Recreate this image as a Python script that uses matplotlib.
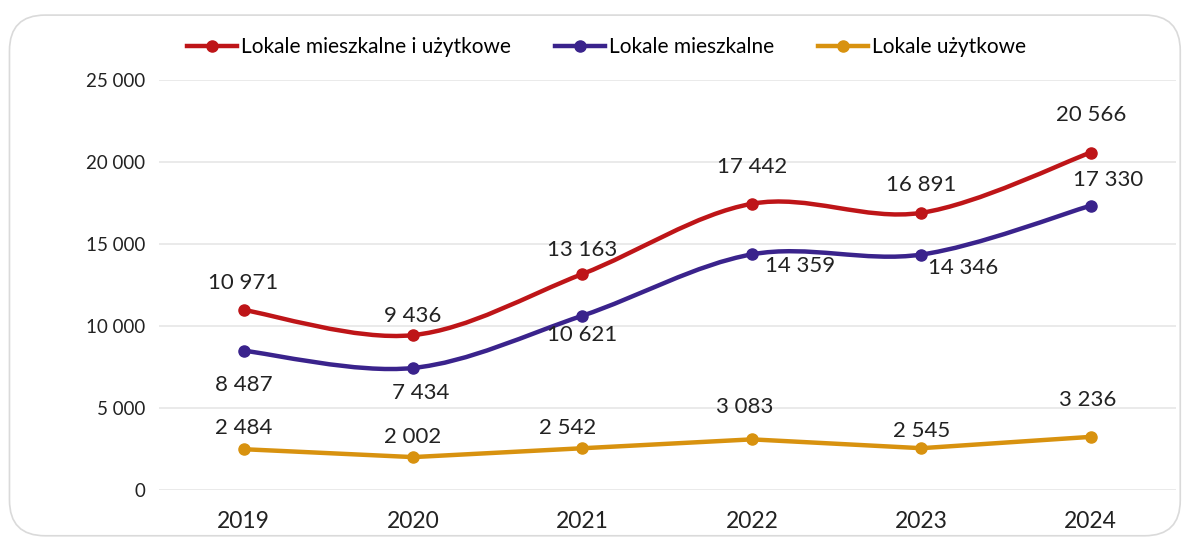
import numpy as np
import matplotlib.pyplot as plt
from matplotlib.path import Path
from matplotlib.patches import PathPatch, FancyBboxPatch
from matplotlib.lines import Line2D
from matplotlib.ticker import FuncFormatter

plt.rcParams['font.family'] = ['Lato', 'DejaVu Sans']

# data
years = ['2019', '2020', '2021', '2022', '2023', '2024']
total = [10971, 9436, 13163, 17442, 16891, 20566]
residential = [8487, 7434, 10621, 14359, 14346, 17330]
commercial = [2484, 2002, 2542, 3083, 2545, 3236]

names = ['Lokale mieszkalne i użytkowe', 'Lokale mieszkalne', 'Lokale użytkowe']
colors = ['#BE1518', '#3A238C', '#D8920F']

# label offsets in pixels (dx, dy) per series
total_off = [(0, 27), (0, 19), (0, 24), (0, 37), (0, 28), (0, 38)]
resid_off = [(0, -34), (8, -25), (0, -19), (48, -12), (42, -13), (17, 26)]
comm_off = [(0, 21), (0, 20), (-15, 20), (-7, 32), (0, 17), (-3, 37)]


def smooth_path(x, y, t=1/6):
    # cubic bezier through every point (catmull-rom style control points)
    x = np.asarray(x, float)
    y = np.asarray(y, float)
    verts = [(x[0], y[0])]
    codes = [Path.MOVETO]
    n = len(x)
    for i in range(n - 1):
        p0 = (x[max(i - 1, 0)], y[max(i - 1, 0)])
        p1 = (x[i], y[i])
        p2 = (x[i + 1], y[i + 1])
        p3 = (x[min(i + 2, n - 1)], y[min(i + 2, n - 1)])
        c1 = (p1[0] + (p2[0] - p0[0]) * t, p1[1] + (p2[1] - p0[1]) * t)
        c2 = (p2[0] - (p3[0] - p1[0]) * t, p2[1] - (p3[1] - p1[1]) * t)
        verts += [c1, c2, p2]
        codes += [Path.CURVE4] * 3
    return Path(verts, codes)


def fmt(v, pos=None):
    return f'{int(v):,}'.replace(',', ' ')


fig = plt.figure(figsize=(11.85, 5.39), dpi=100)
ax = fig.add_axes([0.134, 0.091, 0.858, 0.761])

# rounded frame around the chart
frame = FancyBboxPatch((0.008, 0.006), 0.988, 0.966, boxstyle='round,pad=0,rounding_size=0.03',
                       transform=fig.transFigure, facecolor='none', edgecolor='#DADADA', lw=1.2,
                       mutation_aspect=1185 / 539)
fig.patches.append(frame)

x = np.arange(len(years))
series = [(total, total_off, True), (residential, resid_off, True), (commercial, comm_off, False)]
for (vals, offs, smooth), name, c in zip(series, names, colors):
    if smooth:
        ax.add_patch(PathPatch(smooth_path(x, vals), facecolor='none', edgecolor=c, lw=3.2,
                               capstyle='round', zorder=3))
    else:
        ax.plot(x, vals, color=c, lw=3.2, solid_capstyle='round', zorder=3)
    ax.plot(x, vals, 'o', color=c, ms=8, zorder=4)
    for xi, v, (dx, dy) in zip(x, vals, offs):
        ax.annotate(fmt(v), (xi, v), xytext=(dx, dy), textcoords='offset pixels',
                    ha='center', va='center', fontsize=16, color='#222222')

ax.set_xlim(-0.5, len(years) - 0.5)
ax.set_ylim(0, 25000)
ax.set_yticks(np.arange(0, 25001, 5000))
ax.yaxis.set_major_formatter(FuncFormatter(fmt))
ax.set_xticks(x)
ax.set_xticklabels(years)
ax.grid(axis='y', color='#E6E6E6', lw=1.2)
ax.set_axisbelow(True)
for s in ax.spines.values():
    s.set_visible(False)
ax.tick_params(length=0)
ax.tick_params(axis='y', labelsize=13.5, pad=10, labelcolor='#222222')
ax.tick_params(axis='x', labelsize=16.5, pad=15, labelcolor='#222222')

handles = [Line2D([], [], color=c, lw=3.2, marker='o', ms=8) for c in colors]
fig.legend(handles, names, loc='center', bbox_to_anchor=(0.512, 0.913), ncol=3, frameon=False,
           fontsize=15, handlelength=2.4, handletextpad=0.2, columnspacing=2.1)

fig.savefig('out.png', dpi=100)
